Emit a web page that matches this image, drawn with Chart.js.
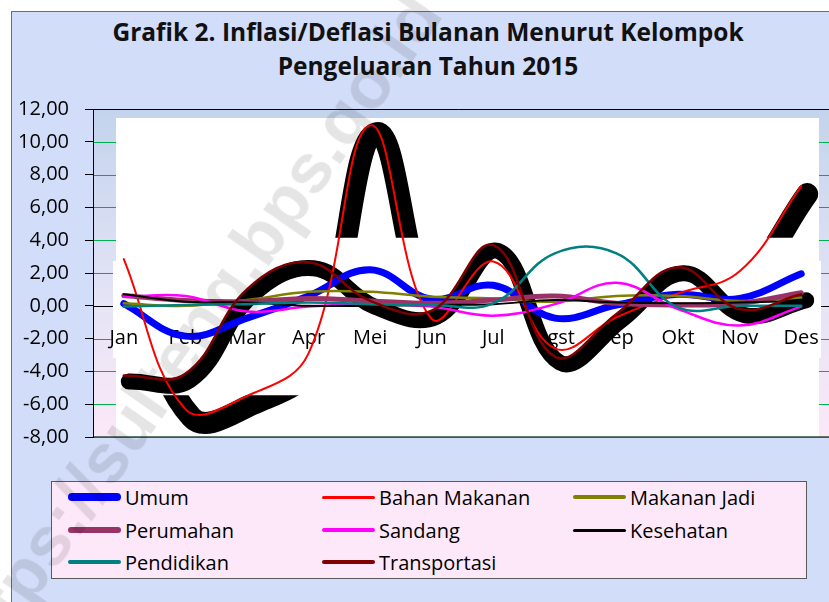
<!DOCTYPE html>
<html>
<head>
<meta charset="utf-8">
<script src="https://cdn.jsdelivr.net/npm/chart.js@4.4.1/dist/chart.umd.min.js"></script>
<style>
  html, body { margin: 0; padding: 0; width: 829px; height: 602px; overflow: hidden; background: #fff; }
  body { position: relative; font-family: "Open Sans", sans-serif; }
  #frame { position: absolute; left: 11px; top: 11px; width: 840px; height: 600px;
           background: #d2ddf9; border-left: 1px solid #6f6f6f; border-top: 1px solid #6f6f6f; }
  #title { position: absolute; left: 11px; width: 834px; top: 15px; text-align: center;
           font-weight: bold; font-size: 24.5px; line-height: 34px; color: #111; }
  #chart { position: absolute; left: 11px; top: 81px; }
  #legend { position: absolute; left: 51px; top: 481px; width: 754px; height: 96px;
            background: #fde8f9; border: 1.5px solid #5a5a5a; }
  .item { position: absolute; height: 30px; display: flex; align-items: center;
          font-size: 20px; color: #000; white-space: nowrap; }
  .swatch { display: inline-block; width: 53px; margin-right: 4px; border-radius: 4px; }
  #mark { position: absolute; left: -74px; top: 644px; transform-origin: 0 0; transform: rotate(-55deg);
          font-family: "Liberation Sans", Arial, sans-serif; font-weight: bold; font-size: 70px;
          color: rgba(0, 0, 0, 0.1); white-space: nowrap; pointer-events: none; }
</style>
</head>
<body>
<div id="frame"></div>
<div id="title">Grafik 2. Inflasi/Deflasi Bulanan Menurut Kelompok<br>Pengeluaran Tahun 2015</div>
<canvas id="chart" width="834" height="384"></canvas>
<div id="legend"></div>
<div id="mark">https://sulteng.bps.go.id</div>
<script>
// data (percent, month-to-month)
const months = ['Jan', 'Feb', 'Mar', 'Apr', 'Mei', 'Jun', 'Jul', 'Agst', 'Sep', 'Okt', 'Nov', 'Des'];
const umum         = [0.13, -1.85, -0.75, 0.6, 2.2, 0.4, 1.25, -0.75, 0.05, 0.7, 0.45, 1.95];
const bahanMakanan = [2.85, -6.3, -5.5, -2.9, 11.0, -0.8, 2.7, -2.6, -0.7, 0.75, 2.1, 7.3];
const makananJadi  = [0.15, 0.0, 0.35, 0.85, 0.85, 0.55, 0.45, 0.25, 0.6, 0.6, 0.3, 0.5];
const perumahan    = [0.63, 0.33, 0.26, 0.45, 0.3, 0.15, 0.35, 0.6, 0.15, 0.05, 0.15, 0.8];
const sandang      = [0.55, 0.6, -0.35, -0.05, 0.1, -0.05, -0.6, 0.1, 1.4, -0.2, -1.2, -0.05];
const kesehatan    = [0.7, 0.25, 0.2, 0.0, 0.0, 0.05, 0.1, 0.35, 0.2, 0.15, 0.2, 0.3];
const pendidikan   = [-0.05, 0.05, 0.1, 0.2, 0.1, 0.05, 0.15, 3.2, 3.2, -0.1, 0.0, 0.0];
const transportasi = [-4.25, -4.15, 1.0, 2.65, 0.3, -0.3, 3.7, -3.1, -0.5, 2.35, -0.2, 0.7];

const names  = ['Umum', 'Bahan Makanan', 'Makanan Jadi', 'Perumahan', 'Sandang', 'Kesehatan', 'Pendidikan', 'Transportasi'];
const series = [umum, bahanMakanan, makananJadi, perumahan, sandang, kesehatan, pendidikan, transportasi];
const colors = ['#0000ff', '#ff0000', '#808000', '#993366', '#ff00ff', '#000000', '#008080', '#800000'];
const widths = [7, 2, 2.5, 5, 2.5, 2, 2.5, 2.5];

const FONT = 'Open Sans';

var datasets = series.map(function (s, i) {
  return {
    label: names[i], data: s, borderColor: colors[i], borderWidth: widths[i],
    pointRadius: 0, tension: 0.4, fill: false, order: 10 - i,
    borderCapStyle: 'round'
  };
});
// the thick black ghost strokes seen behind two of the lines
datasets.push({ label: '', data: transportasi, borderColor: '#000', borderWidth: 16, pointRadius: 0,
  tension: 0.4, order: 30, clip: false, borderCapStyle: 'round', borderJoinStyle: 'round', ghost: 'inner', dx: 5, dy: 6 });
datasets.push({ label: '', data: bahanMakanan, borderColor: '#000', borderWidth: 22, pointRadius: 0,
  tension: 0.4, order: 31, clip: false, borderCapStyle: 'round', borderJoinStyle: 'round', ghost: 'outer', dx: 6, dy: 8 });

const plotBg = {
  id: 'plotBg',
  beforeDraw(chart) {
    const { ctx, chartArea: a, scales: { y } } = chart;
    ctx.save();
    const g = ctx.createLinearGradient(0, a.top, 0, a.bottom);
    g.addColorStop(0, '#c2d4ec');
    g.addColorStop(0.6, '#e6e4f6');
    g.addColorStop(1, '#fbe8f7');
    ctx.fillStyle = g;
    ctx.fillRect(a.left, a.top, a.right - a.left, a.bottom - a.top);
    ctx.lineWidth = 1;
    y.ticks.forEach(function (t) {
      const py = Math.round(y.getPixelForValue(t.value)) + 0.5;
      ctx.strokeStyle = t.value === 0 ? '#000' : '#00b050';
      ctx.beginPath(); ctx.moveTo(a.left, py); ctx.lineTo(a.right, py); ctx.stroke();
    });
    // white panel pasted over the plot
    ctx.fillStyle = '#fff';
    ctx.fillRect(a.left + 23, a.top + 9, a.right - a.left - 36, a.bottom - a.top - 9);
    ctx.fillRect(a.left + 20, a.top + 152, a.right - a.left - 31, 97);
    // plot frame
    ctx.strokeStyle = '#000';
    ctx.beginPath(); ctx.moveTo(a.left - 8, a.top + 0.5); ctx.lineTo(a.right, a.top + 0.5); ctx.stroke();
    ctx.strokeStyle = '#2f4f3f';
    ctx.lineWidth = 1.5;
    ctx.beginPath(); ctx.moveTo(a.left, a.bottom); ctx.lineTo(a.right, a.bottom); ctx.stroke();
    ctx.restore();
  }
};

const ghost = {
  id: 'ghost',
  beforeDatasetDraw(chart, args) {
    const ds = chart.data.datasets[args.index];
    if (!ds.ghost) return;
    const { ctx, scales: { y } } = chart;
    ctx.save();
    const t = y.getPixelForValue(4.15), b = y.getPixelForValue(-5.45);
    ctx.beginPath();
    if (ds.ghost === 'outer') {
      ctx.rect(0, 0, chart.width, t);
      ctx.rect(0, b, chart.width, chart.height - b);
    } else {
      ctx.rect(0, t, chart.width, b - t);
    }
    ctx.clip();
    ctx.translate(ds.dx, ds.dy);
  },
  afterDatasetDraw(chart, args) {
    if (chart.data.datasets[args.index].ghost) chart.ctx.restore();
  }
};

new Chart(document.getElementById('chart'), {
  type: 'line',
  data: { labels: months, datasets: datasets },
  options: {
    responsive: false,
    animation: false,
    layout: { padding: { top: 18, right: 13, bottom: 23, left: 0 } },
    plugins: { legend: { display: false }, title: { display: false }, tooltip: { enabled: false } },
    scales: {
      x: {
        position: { y: 0 },
        offset: true,
        grid: { display: false, drawTicks: false },
        border: { display: false },
        ticks: { padding: 20, color: '#000', font: { family: FONT, size: 20 }, maxRotation: 0, autoSkip: false }
      },
      y: {
        min: -8, max: 12,
        afterFit: function (s) { s.width = 82; },
        ticks: {
          stepSize: 2, padding: 16, color: '#000', font: { family: FONT, size: 20 },
          callback: function (v) { return Number(v).toFixed(2).replace('.', ','); }
        },
        grid: { drawOnChartArea: false, color: '#000', tickLength: 8 },
        border: { color: '#000', width: 1 }
      }
    }
  },
  plugins: [plotBg, ghost]
});

// legend, three columns like the original
const colX = [68, 322, 573];
const rowY = [482, 515, 547];
const legend = document.getElementById('legend');
names.forEach(function (n, i) {
  const it = document.createElement('div');
  it.className = 'item';
  it.style.left = (colX[i % 3] - 52) + 'px';
  it.style.top = (rowY[Math.floor(i / 3)] - 482) + 'px';
  const sw = document.createElement('span');
  sw.className = 'swatch';
  sw.style.height = Math.max(2, widths[i] + 1) + 'px';
  sw.style.background = colors[i];
  it.appendChild(sw);
  it.appendChild(document.createTextNode(n));
  legend.appendChild(it);
});
</script>
</body>
</html>
